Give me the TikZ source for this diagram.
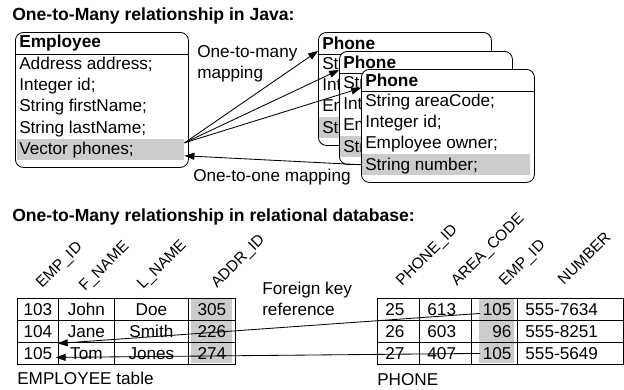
\documentclass[tikz,border=0pt]{standalone}
\usepackage{fontspec}
\setmainfont{Liberation Sans}
\usetikzlibrary{arrows.meta,positioning}

\newdimen\pxu \pxu=0.025cm

\tikzset{
    % Box styles
    class box/.style={draw, fill=white, rounded corners=8\pxu, line width=0.6pt,
                      minimum width=173\pxu, anchor=north west, inner sep=0pt},
    row fill/.style={fill=black!20, anchor=north west, minimum height=21\pxu, inner sep=0pt},
    head/.style={anchor=west, inner sep=0pt, font=\fontsize{12.3}{15}\selectfont\bfseries},
    member/.style={anchor=west, inner sep=0pt},
    % Table styles
    cell/.style={draw, line width=0.6pt, anchor=north west, minimum height=22\pxu, inner sep=0pt},
    col head/.style={anchor=base west, inner sep=0pt, rotate=45, font=\fontsize{11}{13}\selectfont},
    key fill/.style={fill=black!20},
    % Arrow styles
    link/.style={-{Triangle[length=7pt, width=5pt]}, line width=0.6pt},
    title/.style={anchor=base west, inner sep=0pt, font=\fontsize{12.5}{15}\selectfont\bfseries},
}

\begin{document}
\begin{tikzpicture}[x=0.025cm, y=-0.025cm,
    every node/.append style={font=\fontsize{12.2}{15}\selectfont},
]
    \useasboundingbox (0,0) rectangle (624,389);

    % Java classes
    \node[title] (t1) at (12,20.5) {One-to-Many relationship in Java:};

    \node[class box, minimum height=135\pxu] (emp) at (15,32) {};
    \node[row fill, minimum width=167\pxu] (emp-phones) at (17,139) {};
    \draw[line width=0.6pt] (15,54) -- (188,54);
    \node[head] (emp-head) at (19,43) {Employee};
    \foreach \t [count=\i] in {Address address;, Integer id;, String firstName;,
                               String lastName;, Vector phones;}
        \node[member] (emp-\i) at (19,43.4+\i*21.3) {\t};

    \foreach \k/\x/\y in {1/318/32, 2/339/51, 3/361/69} {
        \node[class box, minimum height=113\pxu] (ph\k) at (\x,\y) {};
        \node[row fill, minimum width=168\pxu] (ph\k-num) at (\x+1,\y+85) {};
        \draw[line width=0.6pt] (\x,\y+22) -- (\x+173,\y+22);
        \node[head] (ph\k-head) at (\x+4,\y+11) {Phone};
        \foreach \t [count=\i] in {String areaCode;, Integer id;, Employee owner;, String number;}
            \node[member] (ph\k-\i) at (\x+4,\y+11.4+\i*21.3) {\t};
    }

    % Mappings
    \foreach \k in {1,2,3}
        \draw[link] ([yshift=7\pxu]emp-phones.east) -- ([yshift=-19\pxu]ph\k.north west);
    \draw[link] (ph3-num.west) -- ([yshift=-6\pxu]emp-phones.east);

    \node[anchor=west, inner sep=0pt, align=left] (l1) at (197,64) {One-to-many\\mapping};
    \node[anchor=west, inner sep=0pt] (l2) at (193,177) {One-to-one mapping};

    % Relational tables
    \node[title] (t2) at (12,221) {One-to-Many relationship in relational database:};

    \node[col head] (h-e1) at (42,289) {EMP\_ID};
    \node[col head] (h-e2) at (85,292) {F\_NAME};
    \node[col head] (h-e3) at (143,290) {L\_NAME};
    \node[col head] (h-e4) at (217,289) {ADDR\_ID};

    \fill[key fill] (191,299) rectangle (232,363);
    \foreach \a/\b/\c/\d [count=\r] in {103/John/Doe/305, 104/Jane/Smith/226, 105/Tom/Jones/274} {
        \node[cell, minimum width=41\pxu] (e\r-1) at (17,276+22*\r) {\a};
        \node[cell, minimum width=56\pxu] (e\r-2) at (58,276+22*\r) {\b};
        \node[cell, minimum width=74\pxu] (e\r-3) at (114,276+22*\r) {\c};
        \node[cell, minimum width=47\pxu] (e\r-4) at (188,276+22*\r) {\d};
    }
    \node[anchor=west, inner sep=0pt] (emp-cap) at (17,378) {EMPLOYEE table};

    \node[col head] (h-p1) at (402,287) {PHONE\_ID};
    \node[col head] (h-p2) at (457,287) {AREA\_CODE};
    \node[col head] (h-p3) at (505,287) {EMP\_ID};
    \node[col head] (h-p4) at (564,286) {NUMBER};

    \fill[key fill] (479,299) rectangle (514,363);
    \foreach \a/\b/\c/\d [count=\r] in {25/613/105/555-7634, 26/603/96/555-8251, 27/407/105/555-5649} {
        \node[cell, text width=26\pxu, inner xsep=8\pxu, align=left] (p\r-1) at (377,276+22*\r) {\a};
        \node[cell, text width=36\pxu, inner xsep=8\pxu, align=left] (p\r-2) at (419,276+22*\r) {\b};
        \node[cell, text width=34\pxu, inner xsep=6\pxu, align=right] (p\r-3) at (471,276+22*\r) {\c};
        \node[cell, text width=90\pxu, inner xsep=8\pxu, align=left] (p\r-4) at (517,276+22*\r) {\d};
    }
    \node[anchor=west, inner sep=0pt] (ph-cap) at (377,380) {PHONE};

    % Foreign keys
    \node[anchor=west, inner sep=0pt, align=left] (fk) at (262,298.5) {Foreign key\\reference};
    \draw[link] ([xshift=9\pxu, yshift=-4\pxu]p1-3.west) -- ([xshift=-1\pxu, yshift=10\pxu]e3-1.east);
    \draw[link] ([xshift=9\pxu]p3-3.west) -- ([xshift=-3\pxu, yshift=-4\pxu]e3-1.east);
\end{tikzpicture}
\end{document}
